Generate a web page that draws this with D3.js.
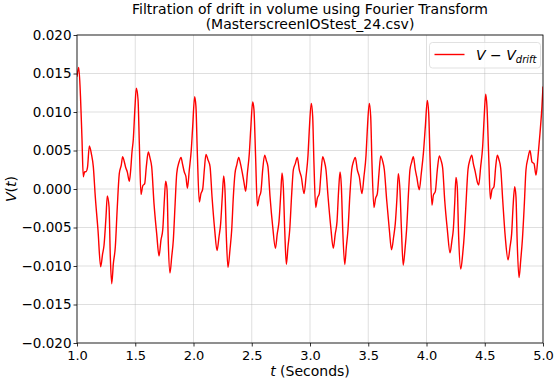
<!DOCTYPE html>
<html><head><meta charset="utf-8">
<script src="https://cdn.jsdelivr.net/npm/d3@7/dist/d3.min.js"></script>
<style>body{margin:0;background:#fff;} svg{display:block;font-family:"DejaVu Sans",sans-serif;}</style>
</head><body>
<script>
const tValues = [1.0,1.015,1.03,1.043,1.054,1.066,1.077,1.09,1.106,1.123,1.14,1.157,1.18,1.203,1.22,1.232,1.249,1.26,1.275,1.286,1.298,1.312,1.329,1.346,1.363,1.38,1.392,1.405,1.418,1.432,1.449,1.461,1.472,1.483,1.498,1.509,1.524,1.535,1.549,1.564,1.581,1.595,1.612,1.627,1.641,1.661,1.684,1.704,1.721,1.736,1.75,1.761,1.773,1.784,1.798,1.813,1.827,1.841,1.856,1.876,1.893,1.905,1.921,1.935,1.948,
1.964,1.981,1.993,2.01,2.021,2.033,2.05,2.064,2.079,2.093,2.107,2.124,2.142,2.159,2.182,2.202,2.219,2.233,2.247,2.259,2.27,2.282,2.296,2.313,2.328,2.342,2.356,2.371,2.388,2.403,2.419,2.433,2.448,2.462,2.479,2.491,2.508,2.519,2.533,2.548,2.565,2.579,2.594,2.611,2.625,2.639,2.657,2.68,2.703,2.719,2.734,2.749,2.76,2.771,2.783,2.797,2.811,2.826,
2.843,2.857,2.874,2.891,2.908,2.925,2.949,2.966,2.983,2.994,3.011,3.023,3.034,3.049,3.063,3.08,3.094,3.109,3.123,3.137,3.155,3.178,3.2,3.217,3.232,3.246,3.258,3.269,3.281,3.298,3.312,3.326,3.343,3.358,3.372,3.389,3.406,3.423,3.446,3.463,3.481,3.492,3.509,3.521,3.532,3.549,3.563,3.578,3.592,3.607,3.624,3.638,3.658,3.681,3.7,3.718,3.732,3.747,3.758,3.772,
3.785,3.8,3.815,3.829,3.847,3.858,3.873,3.887,3.904,3.916,3.938,3.955,3.973,3.99,4.007,4.019,4.03,4.047,4.059,4.076,4.093,4.11,4.127,4.139,4.156,4.179,4.202,4.219,4.23,4.242,4.253,4.264,4.276,4.294,4.311,4.325,4.339,4.356,4.373,4.388,4.402,4.419,4.436,4.448,4.465,4.482,4.494,4.508,4.519,4.534,4.548,4.562,4.579,4.594,4.608,4.622,4.637,4.654,4.676,4.7,4.717,4.731,4.743,4.757,4.768,4.779,4.794,4.809,4.823,4.84,4.854,4.871,4.888,4.906,4.923,4.94,4.957,4.974,4.991,5.0];
const vValues = [0.01458,0.0158,0.012,0.0064,0.0016,0.00225,0.00225,0.0028,0.0056,0.0046,0.0029,-0.001,-0.0053,-0.0101,-0.0084,-0.0073,-0.0036,-0.0009,-0.0023,-0.0088,-0.0123,-0.0097,-0.0075,-0.0023,0.002,0.0031,0.0042,0.0036,0.0028,0.0022,0.001,0.0025,0.0048,0.0064,0.0107,0.0131,0.0116,0.0059,-0.0007,0.0004,0.0007,0.0029,0.0048,0.004,0.0029,-0.0019,-0.0058,-0.0087,-0.0066,-0.0053,-0.0014,0.001,-0.0001,-0.0071,-0.0109,-0.0088,-0.0066,-0.0023,0.002,0.0035,0.0041,0.0033,0.0022,0.0016,0.0001,
0.0025,0.0051,0.0081,0.012,0.0107,0.0046,-0.0017,-0.0006,0.0,0.0025,0.0045,0.0038,0.0029,-0.001,-0.0053,-0.008,-0.0062,-0.0045,-0.001,0.0017,-0.0001,-0.0062,-0.0102,-0.0079,-0.0053,-0.001,0.002,0.0031,0.0041,0.0033,0.0021,0.0009,-0.0003,0.002,0.0046,0.0077,0.0113,0.0103,0.0042,-0.0022,-0.001,-0.0003,0.0025,0.0044,0.0037,0.0029,-0.001,-0.0049,-0.0077,-0.0058,-0.0042,-0.0006,0.0021,0.0003,-0.0053,-0.0098,-0.0075,-0.0053,
-0.0006,0.0025,0.0033,0.0041,0.0025,0.0016,-0.0006,0.0016,0.0044,0.0077,0.0111,0.0094,0.0033,-0.0024,-0.0012,-0.0006,0.002,0.0042,0.0036,0.0025,-0.001,-0.0049,-0.0077,-0.0058,-0.0042,-0.0001,0.0022,0.0004,-0.0053,-0.0098,-0.0075,-0.0053,-0.0006,0.0025,0.0035,0.0041,0.0025,0.0016,-0.0006,0.0016,0.0044,0.0077,0.0111,0.0094,0.0033,-0.0024,-0.0012,-0.0006,0.002,0.0043,0.0036,0.0025,-0.0014,-0.0053,-0.0079,-0.0062,-0.0045,-0.001,0.002,-0.0001,
-0.0053,-0.0099,-0.0079,-0.0053,-0.0001,0.0025,0.0035,0.0042,0.0025,0.0016,-0.0001,0.002,0.0046,0.0081,0.0115,0.0098,0.0042,-0.0021,-0.0008,-0.0003,0.0025,0.0043,0.0036,0.0027,-0.0014,-0.0053,-0.0083,-0.0066,-0.0053,-0.0019,0.0015,0.0003,-0.0062,-0.0104,-0.0084,-0.0058,-0.0019,0.0025,0.0038,0.0044,0.0033,0.0022,0.0009,0.0005,0.0029,0.0055,0.009,0.0123,0.0107,0.0042,-0.0013,-0.0001,0.0003,0.0029,0.0044,0.0038,0.0027,-0.0014,-0.0062,-0.0092,-0.0075,-0.0058,-0.0023,0.0003,-0.001,-0.0071,-0.0115,-0.0092,-0.0066,-0.0019,0.0025,0.004,0.005,0.0035,0.0033,0.0018,0.0042,0.0072,0.0107,0.0133];
const xTicks = [1.0,1.5,2.0,2.5,3.0,3.5,4.0,4.5,5.0];
const yTicks = [-0.020,-0.015,-0.010,-0.005,0.000,0.005,0.010,0.015,0.020];
const titleLines = ["Filtration of drift in volume using Fourier Transform","(MasterscreenIOStest_24.csv)"];

const W=559,H=383, m={l:77,r:16,t:35,b:40};
const svg=d3.select("body").append("svg").attr("width",W).attr("height",H);
const x=d3.scaleLinear().domain([1,5]).range([m.l,W-m.r]);
const y=d3.scaleLinear().domain([-0.02,0.02]).range([H-m.b,m.t]);
const fmtY=v=>{const s=Math.abs(v).toFixed(3);return (v< -1e-9?"\u2212":"")+s;};

// grid
svg.append("g").selectAll("line").data(xTicks).join("line")
 .attr("x1",d=>x(d)).attr("x2",d=>x(d)).attr("y1",m.t).attr("y2",H-m.b)
 .attr("stroke","#b0b0b0").attr("stroke-opacity",0.5).attr("stroke-width",0.8);
svg.append("g").selectAll("line").data(yTicks).join("line")
 .attr("y1",d=>y(d)).attr("y2",d=>y(d)).attr("x1",m.l).attr("x2",W-m.r)
 .attr("stroke","#b0b0b0").attr("stroke-opacity",0.5).attr("stroke-width",0.8);

// line
const data=tValues.map((t,i)=>({t,v:vValues[i]}));
svg.append("defs").append("clipPath").attr("id","c").append("rect")
 .attr("x",m.l).attr("y",m.t).attr("width",W-m.l-m.r).attr("height",H-m.t-m.b);
svg.append("path").datum(data).attr("clip-path","url(#c)")
 .attr("d",d3.line().x(d=>x(d.t)).y(d=>y(d.v)).curve(d3.curveMonotoneX))
 .attr("fill","none").attr("stroke","#ff0000").attr("stroke-width",1.4);

// axes
const xa=svg.append("g").attr("transform",`translate(0,${H-m.b})`)
 .call(d3.axisBottom(x).tickValues(xTicks).tickFormat(d3.format(".1f")).tickSize(3.5).tickPadding(2));
const ya=svg.append("g").attr("transform",`translate(${m.l},0)`)
 .call(d3.axisLeft(y).tickValues(yTicks).tickFormat(fmtY).tickSize(3.5).tickPadding(2));
[xa,ya].forEach(a=>{a.select(".domain").remove();a.selectAll("text").attr("font-size",13.5).attr("fill","#000").attr("font-family","DejaVu Sans");a.selectAll("line").attr("stroke","#000").attr("stroke-width",0.8);});
xa.selectAll("text").attr("font-size",13).attr("dy","0.85em");
svg.append("rect").attr("x",m.l).attr("y",m.t).attr("width",W-m.l-m.r).attr("height",H-m.t-m.b)
 .attr("fill","none").attr("stroke","#000").attr("stroke-width",0.8);

// titles
svg.append("g").selectAll("text").data(titleLines).join("text")
 .attr("x",(m.l+W-m.r)/2).attr("y",(d,i)=>14+i*15).attr("text-anchor","middle")
 .attr("font-size",14).text(d=>d);

// axis labels
const xl=svg.append("text").attr("x",(m.l+W-m.r)/2).attr("y",376).attr("text-anchor","middle").attr("font-size",14);
xl.append("tspan").attr("font-style","italic").text("t");
xl.append("tspan").text(" (Seconds)");
const yl=svg.append("text").attr("transform",`translate(16,${(m.t+H-m.b)/2}) rotate(-90)`).attr("text-anchor","middle").attr("font-size",14);
yl.append("tspan").attr("font-style","italic").text("V");
yl.append("tspan").text("(");
yl.append("tspan").attr("font-style","italic").text("t");
yl.append("tspan").text(")");

// legend
const lg=svg.append("g");
lg.append("rect").attr("x",429.5).attr("y",42.5).attr("width",111).attr("height",25.5).attr("rx",3)
 .attr("fill","#fff").attr("fill-opacity",0.8).attr("stroke","#d9d9d9").attr("stroke-width",0.8);
lg.append("line").attr("x1",434.5).attr("x2",464.5).attr("y1",54.5).attr("y2",54.5).attr("stroke","#ff0000").attr("stroke-width",1.4);
const lt=lg.append("text").attr("x",476).attr("y",60).attr("font-size",14).attr("font-style","italic");
lt.append("tspan").text("V");
lt.append("tspan").attr("font-style","normal").text(" \u2212 ");
lt.append("tspan").text("V");
lt.append("tspan").attr("font-size",10).attr("dy",3).text("drift");
</script>
</body></html>
